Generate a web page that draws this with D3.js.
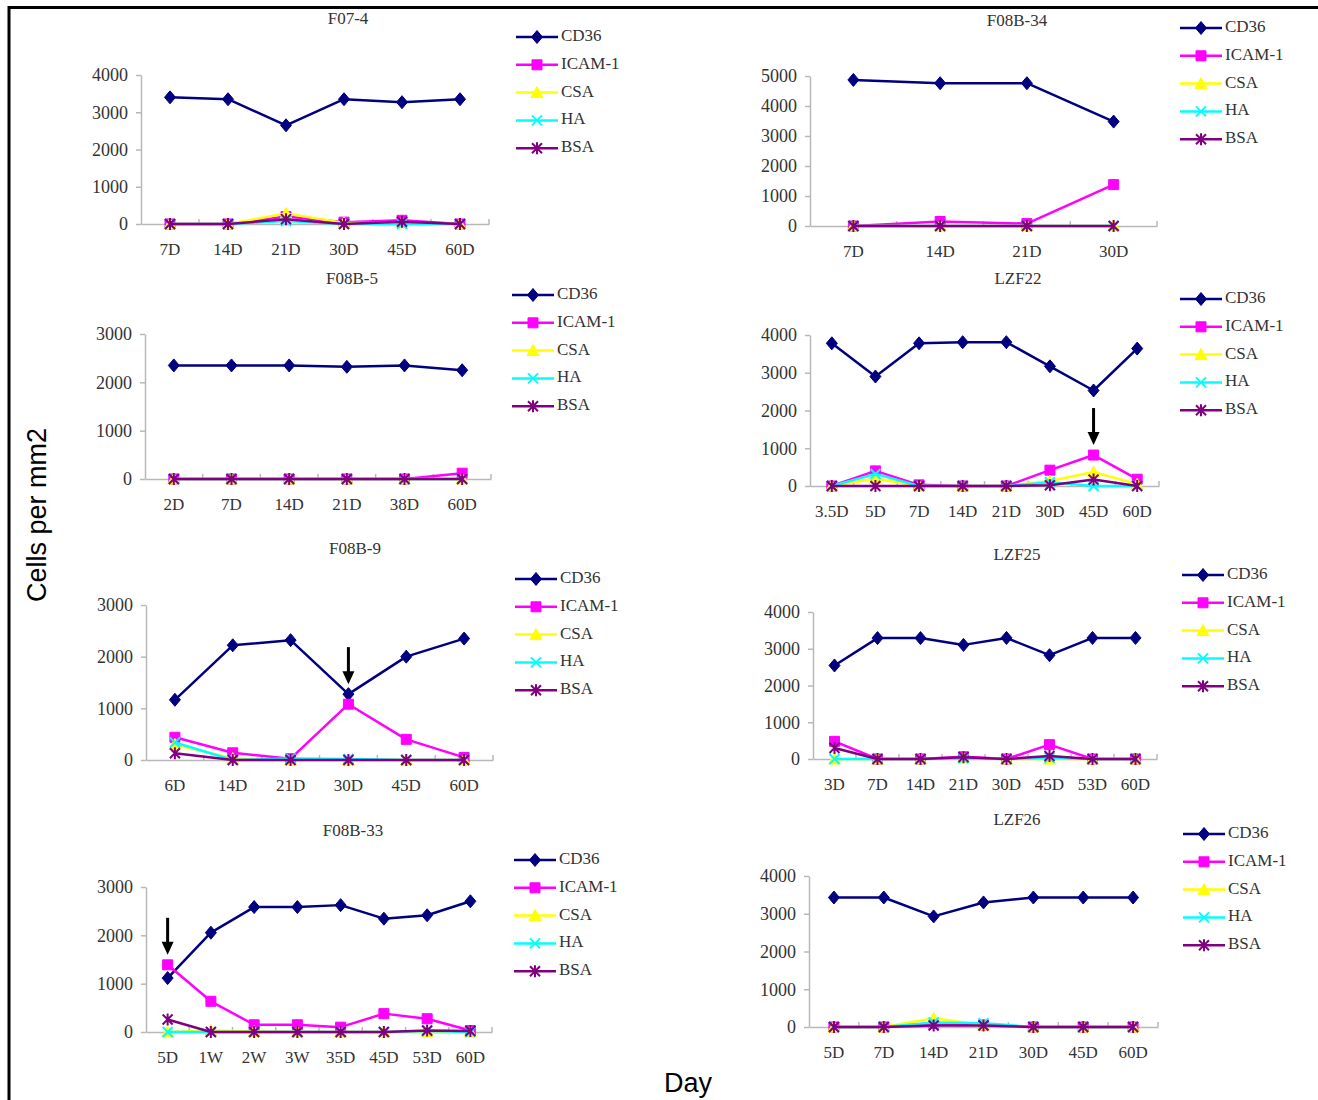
<!DOCTYPE html>
<html>
<head>
<meta charset="utf-8">
<script src="https://cdn.jsdelivr.net/npm/d3@7"></script>
<style>
  body { margin: 0; background: #fff; }
</style>
</head>
<body>
<script>
// chart data
const panelTitles = ["F07-4", "F08B-34", "F08B-5", "LZF22", "F08B-9", "LZF25", "F08B-33", "LZF26"];
const dayLabels = [
  ["7D", "14D", "21D", "30D", "45D", "60D"],
  ["7D", "14D", "21D", "30D"],
  ["2D", "7D", "14D", "21D", "38D", "60D"],
  ["3.5D", "5D", "7D", "14D", "21D", "30D", "45D", "60D"],
  ["6D", "14D", "21D", "30D", "45D", "60D"],
  ["3D", "7D", "14D", "21D", "30D", "45D", "53D", "60D"],
  ["5D", "1W", "2W", "3W", "35D", "45D", "53D", "60D"],
  ["5D", "7D", "14D", "21D", "30D", "45D", "60D"]
];
const yMaxes = [4000, 5000, 3000, 4000, 3000, 4000, 3000, 4000];
const seriesNames = ["CD36", "ICAM-1", "CSA", "HA", "BSA"];

const cd36 = [
  [3400, 3350, 2650, 3350, 3270, 3350],
  [4870, 4760, 4760, 3480],
  [2350, 2350, 2350, 2320, 2350, 2250],
  [3780, 2900, 3780, 3810, 3810, 3170, 2530, 3640],
  [1165, 2220, 2320, 1275, 2000, 2350],
  [2545, 3290, 3290, 3105, 3295, 2825, 3295, 3295],
  [1115, 2055, 2585, 2585, 2625, 2345, 2415, 2705],
  [3430, 3430, 2930, 3300, 3430, 3430, 3430]
];
const icam1 = [
  [0, 0, 200, 50, 100, 0],
  [0, 150, 80, 1380],
  [0, 0, 0, 0, 0, 120],
  [0, 400, 30, 0, 0, 420, 820, 180],
  [440, 140, 25, 1080, 400, 50],
  [480, 0, 0, 60, 0, 390, 0, 0],
  [1390, 635, 150, 150, 100, 380, 275, 30],
  [0, 0, 100, 50, 0, 0, 0]
];
const csa = [
  [0, 0, 280, 30, 30, 0],
  [0, 0, 0, 0],
  [0, 0, 0, 0, 0, 0],
  [0, 200, 0, 0, 0, 130, 370, 50],
  [300, 30, 0, 0, 0, 0],
  [0, 0, 0, 30, 0, 0, 0, 0],
  [0, 30, 10, 0, 0, 0, 0, 0],
  [0, 0, 230, 50, 0, 0, 0]
];
const ha = [
  [0, 0, 80, 0, 0, 0],
  [0, 0, 0, 0],
  [0, 0, 0, 0, 0, 0],
  [0, 320, 0, 0, 0, 100, 0, 0],
  [340, 0, 30, 20, 0, 0],
  [0, 0, 0, 20, 0, 30, 0, 0],
  [0, 0, 0, 0, 0, 0, 20, 0],
  [0, 0, 120, 100, 0, 0, 0]
];
const bsa = [
  [0, 0, 130, 0, 60, 0],
  [0, 0, 0, 0],
  [0, 0, 0, 0, 0, 0],
  [0, 0, 0, 0, 0, 20, 170, 0],
  [130, 0, 0, 0, 0, 0],
  [300, 0, 0, 50, 0, 80, 0, 0],
  [260, 0, 0, 0, 0, 0, 30, 20],
  [0, 0, 40, 40, 0, 0, 0]
];
// arrows: panel, category index, series the arrow points at
const arrowPanels = [4, 3, 6];
const arrowDays = [3, 6, 0];
const arrowSeries = [0, 1, 1];

// layout (pixels)
const layout = [
  { x0: 141, x1: 489, yZero: 224, yTop: 75, tx: 348, ty: 20, lx: 516, ly: 37 },
  { x0: 810, x1: 1157, yZero: 226, yTop: 76, tx: 1017, ty: 22, lx: 1180, ly: 28 },
  { x0: 145, x1: 491, yZero: 479, yTop: 334, tx: 352, ty: 280, lx: 512, ly: 295 },
  { x0: 810, x1: 1159, yZero: 486, yTop: 335, tx: 1018, ty: 280, lx: 1180, ly: 299 },
  { x0: 146, x1: 493, yZero: 760, yTop: 605, tx: 355, ty: 550, lx: 515, ly: 579 },
  { x0: 813, x1: 1157, yZero: 759, yTop: 612, tx: 1017, ty: 556, lx: 1182, ly: 575 },
  { x0: 146, x1: 492, yZero: 1032, yTop: 887, tx: 353, ty: 832, lx: 514, ly: 860 },
  { x0: 809, x1: 1158, yZero: 1027, yTop: 876, tx: 1017, ty: 821, lx: 1183, ly: 834 }
];
const colors = ["#000080", "#ff00ff", "#ffff00", "#00ffff", "#800080"];
const legendStep = 27.8;
const serif = "'Liberation Serif', 'DejaVu Serif', serif";

const W = 1318, H = 1100;
const svg = d3.select("body").append("svg")
    .attr("width", W)
    .attr("height", H)
    .style("display", "block");

// outer frame (top and left edges)
svg.append("line").attr("x1", 8).attr("x2", W).attr("y1", 7.5).attr("y2", 7.5)
    .attr("stroke", "#000").attr("stroke-width", 3);
svg.append("line").attr("x1", 9).attr("x2", 9).attr("y1", 6).attr("y2", H)
    .attr("stroke", "#000").attr("stroke-width", 3);

function markerPath(type) {
  switch (type) {
    case 0: return "M0,-6.5L5.5,0L0,6.5L-5.5,0Z";
    case 1: return "M-5,-5H5V5H-5Z";
    case 2: return "M0,-6L6,5H-6Z";
    case 3: return "M-5,-5L5,5M5,-5L-5,5";
    default: return "M-5,-5L5,5M5,-5L-5,5M0,-6V6";
  }
}
function drawMarker(g, type, x, y) {
  const filled = type < 3;
  g.append("path")
      .attr("d", markerPath(type))
      .attr("transform", "translate(" + x + "," + y + ")")
      .attr("fill", filled ? colors[type] : "none")
      .attr("stroke", colors[type])
      .attr("stroke-width", filled ? 1 : 2);
}

const allSeries = [cd36, icam1, csa, ha, bsa];

panelTitles.forEach(function(title, p) {
  const L = layout[p];
  const g = svg.append("g");
  const days = dayLabels[p];

  const x = d3.scaleBand().domain(days).range([L.x0, L.x1]).padding(0);
  const y = d3.scaleLinear().domain([0, yMaxes[p]]).range([L.yZero, L.yTop]);

  // y axis
  const yAxis = g.append("g")
      .attr("transform", "translate(" + L.x0 + ",0)")
      .call(d3.axisLeft(y)
        .tickValues(d3.range(0, yMaxes[p] + 1, 1000))
        .tickSize(5).tickSizeOuter(0).tickPadding(8)
        .tickFormat(d3.format("d")));
  yAxis.select(".domain").attr("stroke", "#b8b8b8").attr("stroke-width", 1.5);
  yAxis.selectAll(".tick line").attr("stroke", "#b8b8b8").attr("stroke-width", 1.5);
  yAxis.selectAll(".tick text")
      .attr("font-family", serif).attr("font-size", 18).attr("fill", "#333");

  // x axis
  const xAxis = g.append("g")
      .attr("transform", "translate(0," + L.yZero + ")")
      .call(d3.axisBottom(x).tickSize(0).tickPadding(19));
  xAxis.select(".domain").attr("stroke", "#b8b8b8").attr("stroke-width", 1.5);
  xAxis.selectAll(".tick text")
      .attr("font-family", serif).attr("font-size", 17).attr("fill", "#333");
  // category tick marks between bands
  g.selectAll(".ctick")
    .data(days.slice(1).concat(["end"]))
    .enter().append("line")
      .attr("x1", function(d, i) { return i < days.length - 1 ? x(d) : L.x1; })
      .attr("x2", function(d, i) { return i < days.length - 1 ? x(d) : L.x1; })
      .attr("y1", L.yZero).attr("y2", L.yZero - 5)
      .attr("stroke", "#b8b8b8").attr("stroke-width", 1.5);

  // title
  g.append("text")
      .attr("x", L.tx).attr("y", L.ty)
      .attr("text-anchor", "middle").attr("dominant-baseline", "middle")
      .attr("font-family", serif).attr("font-size", 17).attr("fill", "#333")
      .text(title);

  // series lines and markers
  const line = d3.line()
      .x(function(d, i) { return x(days[i]) + x.bandwidth() / 2; })
      .y(function(d) { return y(d); });
  allSeries.forEach(function(s, k) {
    const vals = s[p];
    g.append("path")
        .attr("d", line(vals))
        .attr("fill", "none")
        .attr("stroke", colors[k])
        .attr("stroke-width", 2.5)
        .attr("stroke-linejoin", "round");
    vals.forEach(function(v, i) {
      drawMarker(g, k, x(days[i]) + x.bandwidth() / 2, y(v));
    });
  });

  // legend
  seriesNames.forEach(function(name, k) {
    const ly = L.ly + k * legendStep;
    g.append("line")
        .attr("x1", L.lx).attr("x2", L.lx + 42)
        .attr("y1", ly).attr("y2", ly)
        .attr("stroke", colors[k]).attr("stroke-width", 2.5);
    drawMarker(g, k, L.lx + 21, ly);
    g.append("text")
        .attr("x", L.lx + 45).attr("y", ly)
        .attr("dominant-baseline", "middle")
        .attr("font-family", serif).attr("font-size", 17).attr("fill", "#333")
        .text(name);
  });

  // arrows
  arrowPanels.forEach(function(ap, a) {
    if (ap !== p) return;
    const cx = x(days[arrowDays[a]]) + x.bandwidth() / 2;
    const tip = y(allSeries[arrowSeries[a]][p][arrowDays[a]]) - 10;
    g.append("line")
        .attr("x1", cx).attr("x2", cx)
        .attr("y1", tip - 37).attr("y2", tip - 10)
        .attr("stroke", "#000").attr("stroke-width", 3);
    g.append("path")
        .attr("d", "M" + (cx - 6) + "," + (tip - 13) + "L" + (cx + 6) + "," + (tip - 13) + "L" + cx + "," + tip + "Z")
        .attr("fill", "#000");
  });
});

// axis titles
svg.append("text")
    .attr("transform", "translate(46,515) rotate(-90)")
    .attr("text-anchor", "middle")
    .attr("font-family", "'Liberation Sans', Arial, sans-serif")
    .attr("font-size", 27).attr("fill", "#000")
    .text("Cells per mm2");
svg.append("text")
    .attr("x", 688).attr("y", 1092)
    .attr("text-anchor", "middle")
    .attr("font-family", "'Liberation Sans', Arial, sans-serif")
    .attr("font-size", 27).attr("fill", "#000")
    .text("Day");
</script>
</body>
</html>
